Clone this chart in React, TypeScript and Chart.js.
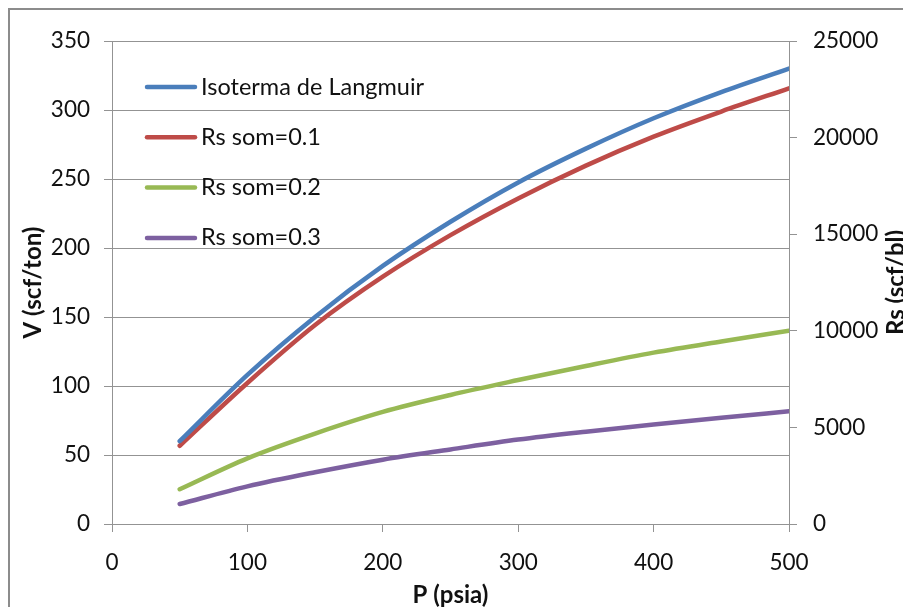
import React, { useEffect, useRef } from "react";
import { Chart, registerables } from "chart.js";

Chart.register(...registerables);

// Pressure steps (psia)
const pressure = [50, 100, 150, 200, 250, 300, 350, 400, 450, 500];
// Langmuir isotherm, V (scf/ton) — left axis
const langmuirV = [60, 108, 150, 187, 219, 247.5, 272, 294, 313, 330];
// Solution gas ratios, Rs (scf/bl) — right axis
const rsSom01 = [4050, 7300, 10300, 12800, 14950, 16850, 18550, 20050, 21350, 22550];
const rsSom02 = [1800, 3400, 4680, 5800, 6680, 7450, 8180, 8870, 9450, 10000];
const rsSom03 = [1035, 1950, 2680, 3330, 3860, 4370, 4780, 5150, 5500, 5830];

const seriesLabels = ["Isoterma de Langmuir", "Rs som=0.1", "Rs som=0.2", "Rs som=0.3"];
const seriesColors = ["#4A7EBB", "#BE4B48", "#98B954", "#7D60A0"];

const xTitle = "P (psia)";
const yTitle = "V (scf/ton)";
const y1Title = "Rs (scf/bl)";

const FONT = "Lato, 'Liberation Sans', sans-serif";
const GRID = "#939393";
const TEXT = "#111111";

const toPoints = (ys: number[]) => pressure.map((p, i) => ({ x: p, y: ys[i] }));

// Legend inside the plot and axis titles (rotated to read bottom-to-top on both sides)
const decorPlugin = {
  id: "decor",
  afterDraw(chart: any) {
    const { ctx, chartArea: a } = chart;
    ctx.save();
    chart.data.datasets.forEach((ds: any, i: number) => {
      const y = a.top + 46 + i * 50.3;
      ctx.strokeStyle = ds.borderColor;
      ctx.lineWidth = 4.5;
      ctx.lineCap = "round";
      ctx.beginPath();
      ctx.moveTo(a.left + 35, y);
      ctx.lineTo(a.left + 83, y);
      ctx.stroke();
      ctx.fillStyle = TEXT;
      ctx.font = `23.5px ${FONT}`;
      ctx.textAlign = "left";
      ctx.textBaseline = "middle";
      ctx.fillText(ds.label, a.left + 89, y);
    });

    ctx.fillStyle = TEXT;
    ctx.font = `bold 24px ${FONT}`;
    ctx.textAlign = "center";
    ctx.textBaseline = "alphabetic";
    ctx.fillText(xTitle, (a.left + a.right) / 2, a.bottom + 79);

    const cy = (a.top + a.bottom) / 2;
    ctx.save();
    ctx.translate(a.left - 71, cy);
    ctx.rotate(-Math.PI / 2);
    ctx.fillText(yTitle, 0, 0);
    ctx.restore();

    ctx.save();
    ctx.translate(a.right + 115, cy);
    ctx.rotate(-Math.PI / 2);
    ctx.fillText(y1Title, 0, 0);
    ctx.restore();

    ctx.restore();
  },
};

export default function App() {
  const canvasRef = useRef<HTMLCanvasElement>(null);

  useEffect(() => {
    const canvas = canvasRef.current;
    if (!canvas) return;
    const yIds = ["y", "y1", "y1", "y1"];
    const values = [langmuirV, rsSom01, rsSom02, rsSom03];
    const tickFont = { family: FONT, size: 22.5 };
    const chart = new Chart(canvas, {
      type: "line",
      data: {
        datasets: values.map((v, i) => ({
          label: seriesLabels[i],
          data: toPoints(v),
          yAxisID: yIds[i],
          borderColor: seriesColors[i],
          backgroundColor: seriesColors[i],
          borderWidth: 4.5,
          borderCapStyle: "round" as const,
          pointRadius: 0,
          cubicInterpolationMode: "monotone" as const,
          fill: false,
        })),
      },
      options: {
        animation: false,
        responsive: false,
        layout: { padding: { top: 31, left: 0, right: 0, bottom: 0 } },
        plugins: { legend: { display: false }, tooltip: { enabled: false } },
        scales: {
          x: {
            type: "linear",
            min: 0,
            max: 500,
            ticks: { stepSize: 100, font: tickFont, color: TEXT, padding: 17, callback: (v: any) => `${v}`, maxRotation: 0 },
            grid: { drawOnChartArea: false, drawTicks: true, tickLength: 8, tickColor: GRID },
            border: { color: GRID, width: 1 },
            afterFit: (s: any) => { s.height = 96; },
          },
          y: {
            type: "linear",
            position: "left",
            min: 0,
            max: 350,
            ticks: { stepSize: 50, font: tickFont, color: TEXT, padding: 14, callback: (v: any) => `${v}` },
            grid: { color: GRID, lineWidth: 1, drawTicks: true, tickLength: 8, tickColor: GRID },
            border: { color: GRID, width: 1 },
            afterFit: (s: any) => { s.width = 102; },
          },
          y1: {
            type: "linear",
            position: "right",
            min: 0,
            max: 25000,
            ticks: { stepSize: 5000, font: tickFont, color: TEXT, padding: 16, callback: (v: any) => `${v}` },
            grid: { drawOnChartArea: false, drawTicks: true, tickLength: 8, tickColor: GRID },
            border: { color: GRID, width: 1 },
            afterFit: (s: any) => { s.width = 131; },
          },
        },
      },
      plugins: [decorPlugin],
    } as any);
    return () => chart.destroy();
  }, []);

  return (
    <div
      style={{
        position: "fixed",
        left: 8,
        top: 8,
        width: 895,
        height: 599,
        overflow: "hidden",
        background: "#ffffff",
      }}
    >
      <div style={{ width: 910, height: 610, border: "2px solid #8c8c8c", background: "#ffffff" }}>
        <canvas ref={canvasRef} width={910} height={610} style={{ display: "block" }} />
      </div>
    </div>
  );
}
